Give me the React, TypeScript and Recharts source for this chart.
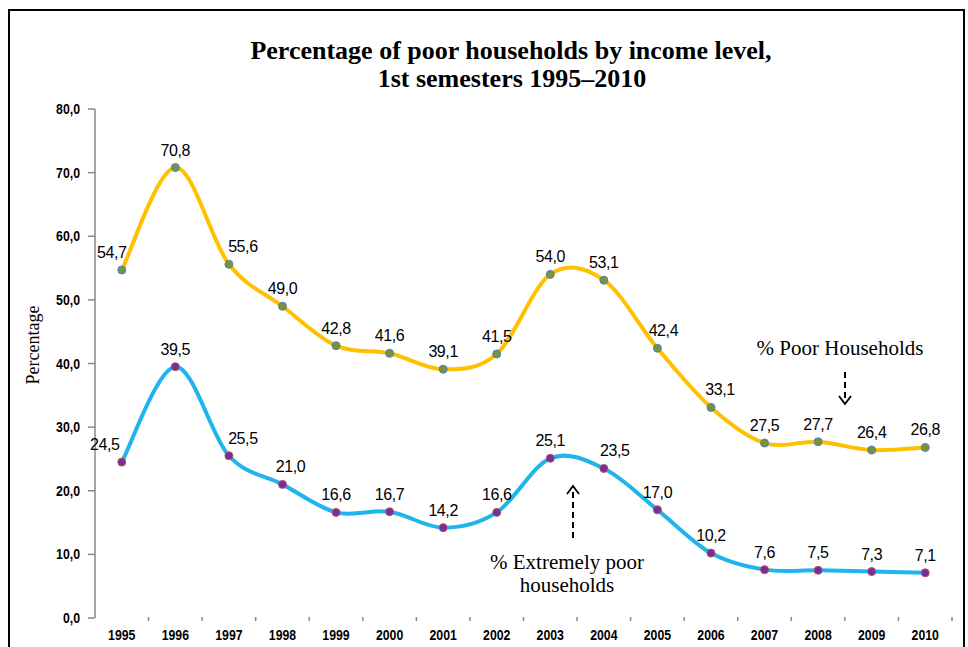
import React from "react";
import { LineChart, Line, XAxis, YAxis, LabelList } from "recharts";

const years = [
  "1995", "1996", "1997", "1998", "1999", "2000", "2001", "2002",
  "2003", "2004", "2005", "2006", "2007", "2008", "2009", "2010",
];
const poorHouseholds = [54.7, 70.8, 55.6, 49.0, 42.8, 41.6, 39.1, 41.5, 54.0, 53.1, 42.4, 33.1, 27.5, 27.7, 26.4, 26.8];
const extremelyPoor = [24.5, 39.5, 25.5, 21.0, 16.6, 16.7, 14.2, 16.6, 25.1, 23.5, 17.0, 10.2, 7.6, 7.5, 7.3, 7.1];
const yTicks = [0, 10, 20, 30, 40, 50, 60, 70, 80];

const data = years.map((year, i) => ({ year, poor: poorHouseholds[i], extreme: extremelyPoor[i] }));

const W = 968;
const H = 647;
const plotLeft = 95;
const plotRight = 952;
const halfBand = (plotRight - plotLeft) / years.length / 2;

const SANS = "'Liberation Sans', Arial, sans-serif";
const SERIF = "'Liberation Serif', 'Times New Roman', serif";

const fmt = (v: number) => v.toFixed(1).replace(".", ",");

// Excel-style smoothed line (Catmull-Rom as cubic beziers)
function excelSmooth(context: any) {
  let xs: number[] = [];
  let ys: number[] = [];
  return {
    areaStart() {},
    areaEnd() {},
    lineStart() {
      xs = [];
      ys = [];
    },
    point(x: number, y: number) {
      xs.push(+x);
      ys.push(+y);
    },
    lineEnd() {
      const n = xs.length;
      if (!n) return;
      context.moveTo(xs[0], ys[0]);
      for (let i = 0; i < n - 1; i++) {
        const x0 = i > 0 ? xs[i - 1] : xs[i];
        const y0 = i > 0 ? ys[i - 1] : ys[i];
        const x3 = i + 2 < n ? xs[i + 2] : xs[i + 1];
        const y3 = i + 2 < n ? ys[i + 2] : ys[i + 1];
        context.bezierCurveTo(
          xs[i] + (xs[i + 1] - x0) / 6,
          ys[i] + (ys[i + 1] - y0) / 6,
          xs[i + 1] - (x3 - xs[i]) / 6,
          ys[i + 1] - (y3 - ys[i]) / 6,
          xs[i + 1],
          ys[i + 1]
        );
      }
    },
  };
}

const YearTick = (props: any) => {
  const { x, y, payload } = props;
  return (
    <g>
      <line x1={x + halfBand} x2={x + halfBand} y1={y - 1} y2={y + 3} stroke="#888" strokeWidth={1.5} />
      <text
        transform={`translate(${x},${y + 22}) scale(0.82,1)`}
        textAnchor="middle"
        fontFamily={SANS}
        fontWeight="bold"
        fontSize={15}
        fill="#000"
      >
        {payload.value}
      </text>
    </g>
  );
};

const ValueTick = (props: any) => {
  const { x, y, payload } = props;
  return (
    <text
      transform={`translate(${x},${y + 5}) scale(0.88,1)`}
      textAnchor="end"
      fontFamily={SANS}
      fontWeight="bold"
      fontSize={14}
      fill="#000"
    >
      {fmt(payload.value)}
    </text>
  );
};

const makeLabel = (shifts: Record<number, number>) => (props: any) => {
  const { x, y, value, index } = props;
  return (
    <text
      x={x + (shifts[index] ?? 0)}
      y={y - 12}
      textAnchor="middle"
      fontFamily={SANS}
      fontSize={16}
      letterSpacing={-0.4}
      fill="#000"
    >
      {fmt(value)}
    </text>
  );
};

const poorLabel = makeLabel({ 0: -10, 2: 14, 10: 6, 11: 9 });
const extremeLabel = makeLabel({ 0: -17, 2: 14, 3: 8, 9: 11 });

export default function App() {
  return (
    <div style={{ position: "absolute", left: 0, top: 0, width: W, height: H, overflow: "hidden", background: "#fff" }}>
      <LineChart width={W} height={H} data={data} margin={{ top: 109, right: W - plotRight, bottom: 0, left: 0 }}>
        <XAxis
          dataKey="year"
          height={H - 618}
          axisLine={false}
          tickLine={false}
          tickSize={0}
          tickMargin={0}
          interval={0}
          padding={{ left: halfBand, right: halfBand }}
          tick={<YearTick />}
        />
        <YAxis
          width={plotLeft}
          domain={[0, 80]}
          ticks={yTicks}
          interval={0}
          axisLine={{ stroke: "#888", strokeWidth: 1.5 }}
          tickLine={{ stroke: "#888", strokeWidth: 1.5 }}
          tickSize={7}
          tickMargin={8}
          tick={<ValueTick />}
        />
        <Line
          dataKey="poor"
          type={excelSmooth as any}
          stroke="#FFC000"
          strokeWidth={4}
          dot={{ r: 4, fill: "#77933C", stroke: "#4F81BD", strokeWidth: 1 }}
          activeDot={false}
          isAnimationActive={false}
        >
          <LabelList dataKey="poor" content={poorLabel} />
        </Line>
        <Line
          dataKey="extreme"
          type={excelSmooth as any}
          stroke="#1FB5EC"
          strokeWidth={4}
          dot={{ r: 4, fill: "#7030A0", stroke: "#C0504D", strokeWidth: 1 }}
          activeDot={false}
          isAnimationActive={false}
        >
          <LabelList dataKey="extreme" content={extremeLabel} />
        </Line>
      </LineChart>
      <svg width={W} height={H} style={{ position: "absolute", left: 0, top: 0, pointerEvents: "none" }}>
        <rect x={9} y={10} width={955} height={700} fill="none" stroke="#000" strokeWidth={2} />
        <text x={511} y={59} textAnchor="middle" fontFamily={SERIF} fontWeight="bold" fontSize={26} fill="#000">
          Percentage of poor households by income level,
        </text>
        <text x={512} y={87} textAnchor="middle" fontFamily={SERIF} fontWeight="bold" fontSize={26} fill="#000">
          1st semesters 1995–2010
        </text>
        <text
          transform="translate(39,345) rotate(-90)"
          textAnchor="middle"
          fontFamily={SERIF}
          fontSize={18}
          fill="#000"
        >
          Percentage
        </text>
        <text x={840} y={355} textAnchor="middle" fontFamily={SERIF} fontSize={21} fill="#000">
          % Poor Households
        </text>
        <line x1={845} y1={372} x2={845} y2={403} stroke="#000" strokeWidth={2} strokeDasharray="6 4" />
        <polyline points="839,396 845,404 851,396" fill="none" stroke="#000" strokeWidth={1.8} />
        <text x={567} y={569} textAnchor="middle" fontFamily={SERIF} fontSize={21} fill="#000">
          % Extremely poor
        </text>
        <text x={567} y={592} textAnchor="middle" fontFamily={SERIF} fontSize={21} fill="#000">
          households
        </text>
        <line x1={573} y1={538} x2={573} y2={487} stroke="#000" strokeWidth={2} strokeDasharray="6 4" />
        <polyline points="567,494 573,486 579,494" fill="none" stroke="#000" strokeWidth={1.8} />
      </svg>
    </div>
  );
}
